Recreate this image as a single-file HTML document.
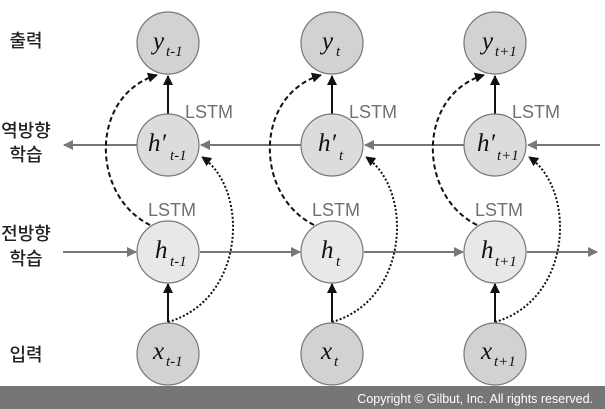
<!DOCTYPE html>
<html><head><meta charset="utf-8"><style>
html,body{margin:0;padding:0;background:#fff;}
svg{display:block;}
.k{font-family:"Liberation Sans","Noto Sans CJK KR",sans-serif;font-size:18px;font-weight:500;fill:#222;}
.l{font-family:"Liberation Sans",sans-serif;font-size:18px;fill:#707070;}
.v{font-family:"Liberation Serif",serif;font-style:italic;font-size:25px;fill:#111;}
.s{font-family:"Liberation Serif",serif;font-style:italic;font-size:15px;fill:#111;}
</style></head><body>
<svg width="605" height="409" viewBox="0 0 605 409" xmlns="http://www.w3.org/2000/svg">
<defs>
<marker id="ag" markerWidth="10" markerHeight="10" refX="9" refY="5" orient="auto" markerUnits="userSpaceOnUse"><path d="M0,0 L10,5 L0,10 z" fill="#777"/></marker>
<marker id="ab" markerWidth="10" markerHeight="10" refX="9" refY="5" orient="auto" markerUnits="userSpaceOnUse"><path d="M0,0 L10,5 L0,10 z" fill="#111"/></marker>
</defs>
<text class="k" x="26" y="47" text-anchor="middle">출력</text>
<text class="k" x="26" y="137" text-anchor="middle">역방향</text>
<text class="k" x="26" y="161" text-anchor="middle">학습</text>
<text class="k" x="26" y="240" text-anchor="middle">전방향</text>
<text class="k" x="26" y="265" text-anchor="middle">학습</text>
<text class="k" x="26" y="361" text-anchor="middle">입력</text>

<line x1="137" y1="145" x2="64" y2="145" stroke="#777" stroke-width="2" marker-end="url(#ag)"/>
<line x1="301" y1="145" x2="201" y2="145" stroke="#777" stroke-width="2" marker-end="url(#ag)"/>
<line x1="464" y1="145" x2="365" y2="145" stroke="#777" stroke-width="2" marker-end="url(#ag)"/>
<line x1="600" y1="145" x2="528" y2="145" stroke="#777" stroke-width="2" marker-end="url(#ag)"/>
<line x1="63" y1="252" x2="136" y2="252" stroke="#777" stroke-width="2" marker-end="url(#ag)"/>
<line x1="200" y1="252" x2="300" y2="252" stroke="#777" stroke-width="2" marker-end="url(#ag)"/>
<line x1="364" y1="252" x2="463" y2="252" stroke="#777" stroke-width="2" marker-end="url(#ag)"/>
<line x1="527" y1="252" x2="597" y2="252" stroke="#777" stroke-width="2" marker-end="url(#ag)"/>

<g fill="none" stroke="#111" stroke-width="2">
<line x1="168" y1="114" x2="168" y2="76" marker-end="url(#ab)"/>
<line x1="168" y1="322" x2="168" y2="284" marker-end="url(#ab)"/>
<line x1="332" y1="114" x2="332" y2="76" marker-end="url(#ab)"/>
<line x1="332" y1="322" x2="332" y2="284" marker-end="url(#ab)"/>
<line x1="495" y1="114" x2="495" y2="76" marker-end="url(#ab)"/>
<line x1="495" y1="322" x2="495" y2="284" marker-end="url(#ab)"/>
<path d="M150,225 C90,195 90,95 157,75" stroke-dasharray="5,3" marker-end="url(#ab)"/>
<path d="M314,225 C254,195 254,95 321,75" stroke-dasharray="5,3" marker-end="url(#ab)"/>
<path d="M477,225 C417,195 417,95 484,75" stroke-dasharray="5,3" marker-end="url(#ab)"/>
<path d="M168,322 C245,300 250,190 202,157" stroke-dasharray="2,2" marker-end="url(#ab)"/>
<path d="M332,322 C409,300 414,190 366,157" stroke-dasharray="2,2" marker-end="url(#ab)"/>
<path d="M495,322 C572,300 577,190 529,157" stroke-dasharray="2,2" marker-end="url(#ab)"/>
</g>
<g stroke="#777" stroke-width="1.2">
<circle cx="168" cy="43" r="31" fill="#d2d2d2"/>
<circle cx="332" cy="43" r="31" fill="#d2d2d2"/>
<circle cx="495" cy="43" r="31" fill="#d2d2d2"/>
<circle cx="168" cy="145" r="31" fill="#dcdcdc"/>
<circle cx="332" cy="145" r="31" fill="#dcdcdc"/>
<circle cx="495" cy="145" r="31" fill="#dcdcdc"/>
<circle cx="168" cy="252" r="31" fill="#e8e8e8"/>
<circle cx="332" cy="252" r="31" fill="#e8e8e8"/>
<circle cx="495" cy="252" r="31" fill="#e8e8e8"/>
<circle cx="168" cy="354" r="31" fill="#d2d2d2"/>
<circle cx="332" cy="354" r="31" fill="#d2d2d2"/>
<circle cx="495" cy="354" r="31" fill="#d2d2d2"/>
</g>
<text class="l" x="185" y="118">LSTM</text>
<text class="l" x="349" y="118">LSTM</text>
<text class="l" x="512" y="118">LSTM</text>
<text class="l" x="148" y="216">LSTM</text>
<text class="l" x="312" y="216">LSTM</text>
<text class="l" x="475" y="216">LSTM</text>
<text class="v" x="153" y="49">y</text><text class="s" x="166" y="56">t-1</text>
<text class="v" x="322" y="49">y</text><text class="s" x="336" y="56">t</text>
<text class="v" x="482" y="49">y</text><text class="s" x="495" y="56">t+1</text>
<text class="v" x="148" y="151">h′</text><text class="s" x="170" y="160">t-1</text>
<text class="v" x="318" y="151">h′</text><text class="s" x="339" y="160">t</text>
<text class="v" x="477" y="151">h′</text><text class="s" x="497" y="160">t+1</text>
<text class="v" x="155" y="258">h</text><text class="s" x="170" y="266">t-1</text>
<text class="v" x="321" y="258">h</text><text class="s" x="336" y="266">t</text>
<text class="v" x="481" y="258">h</text><text class="s" x="495" y="266">t+1</text>
<text class="v" x="153" y="359">x</text><text class="s" x="166" y="366">t-1</text>
<text class="v" x="321" y="359">x</text><text class="s" x="334" y="366">t</text>
<text class="v" x="481" y="359">x</text><text class="s" x="494" y="366">t+1</text>
<rect x="0" y="386" width="605" height="23" fill="#767676"/>
<text x="593" y="403" text-anchor="end" font-family="Liberation Sans,sans-serif" font-size="12.5" fill="#fff">Copyright © Gilbut, Inc. All rights reserved.</text>
</svg>
</body></html>
